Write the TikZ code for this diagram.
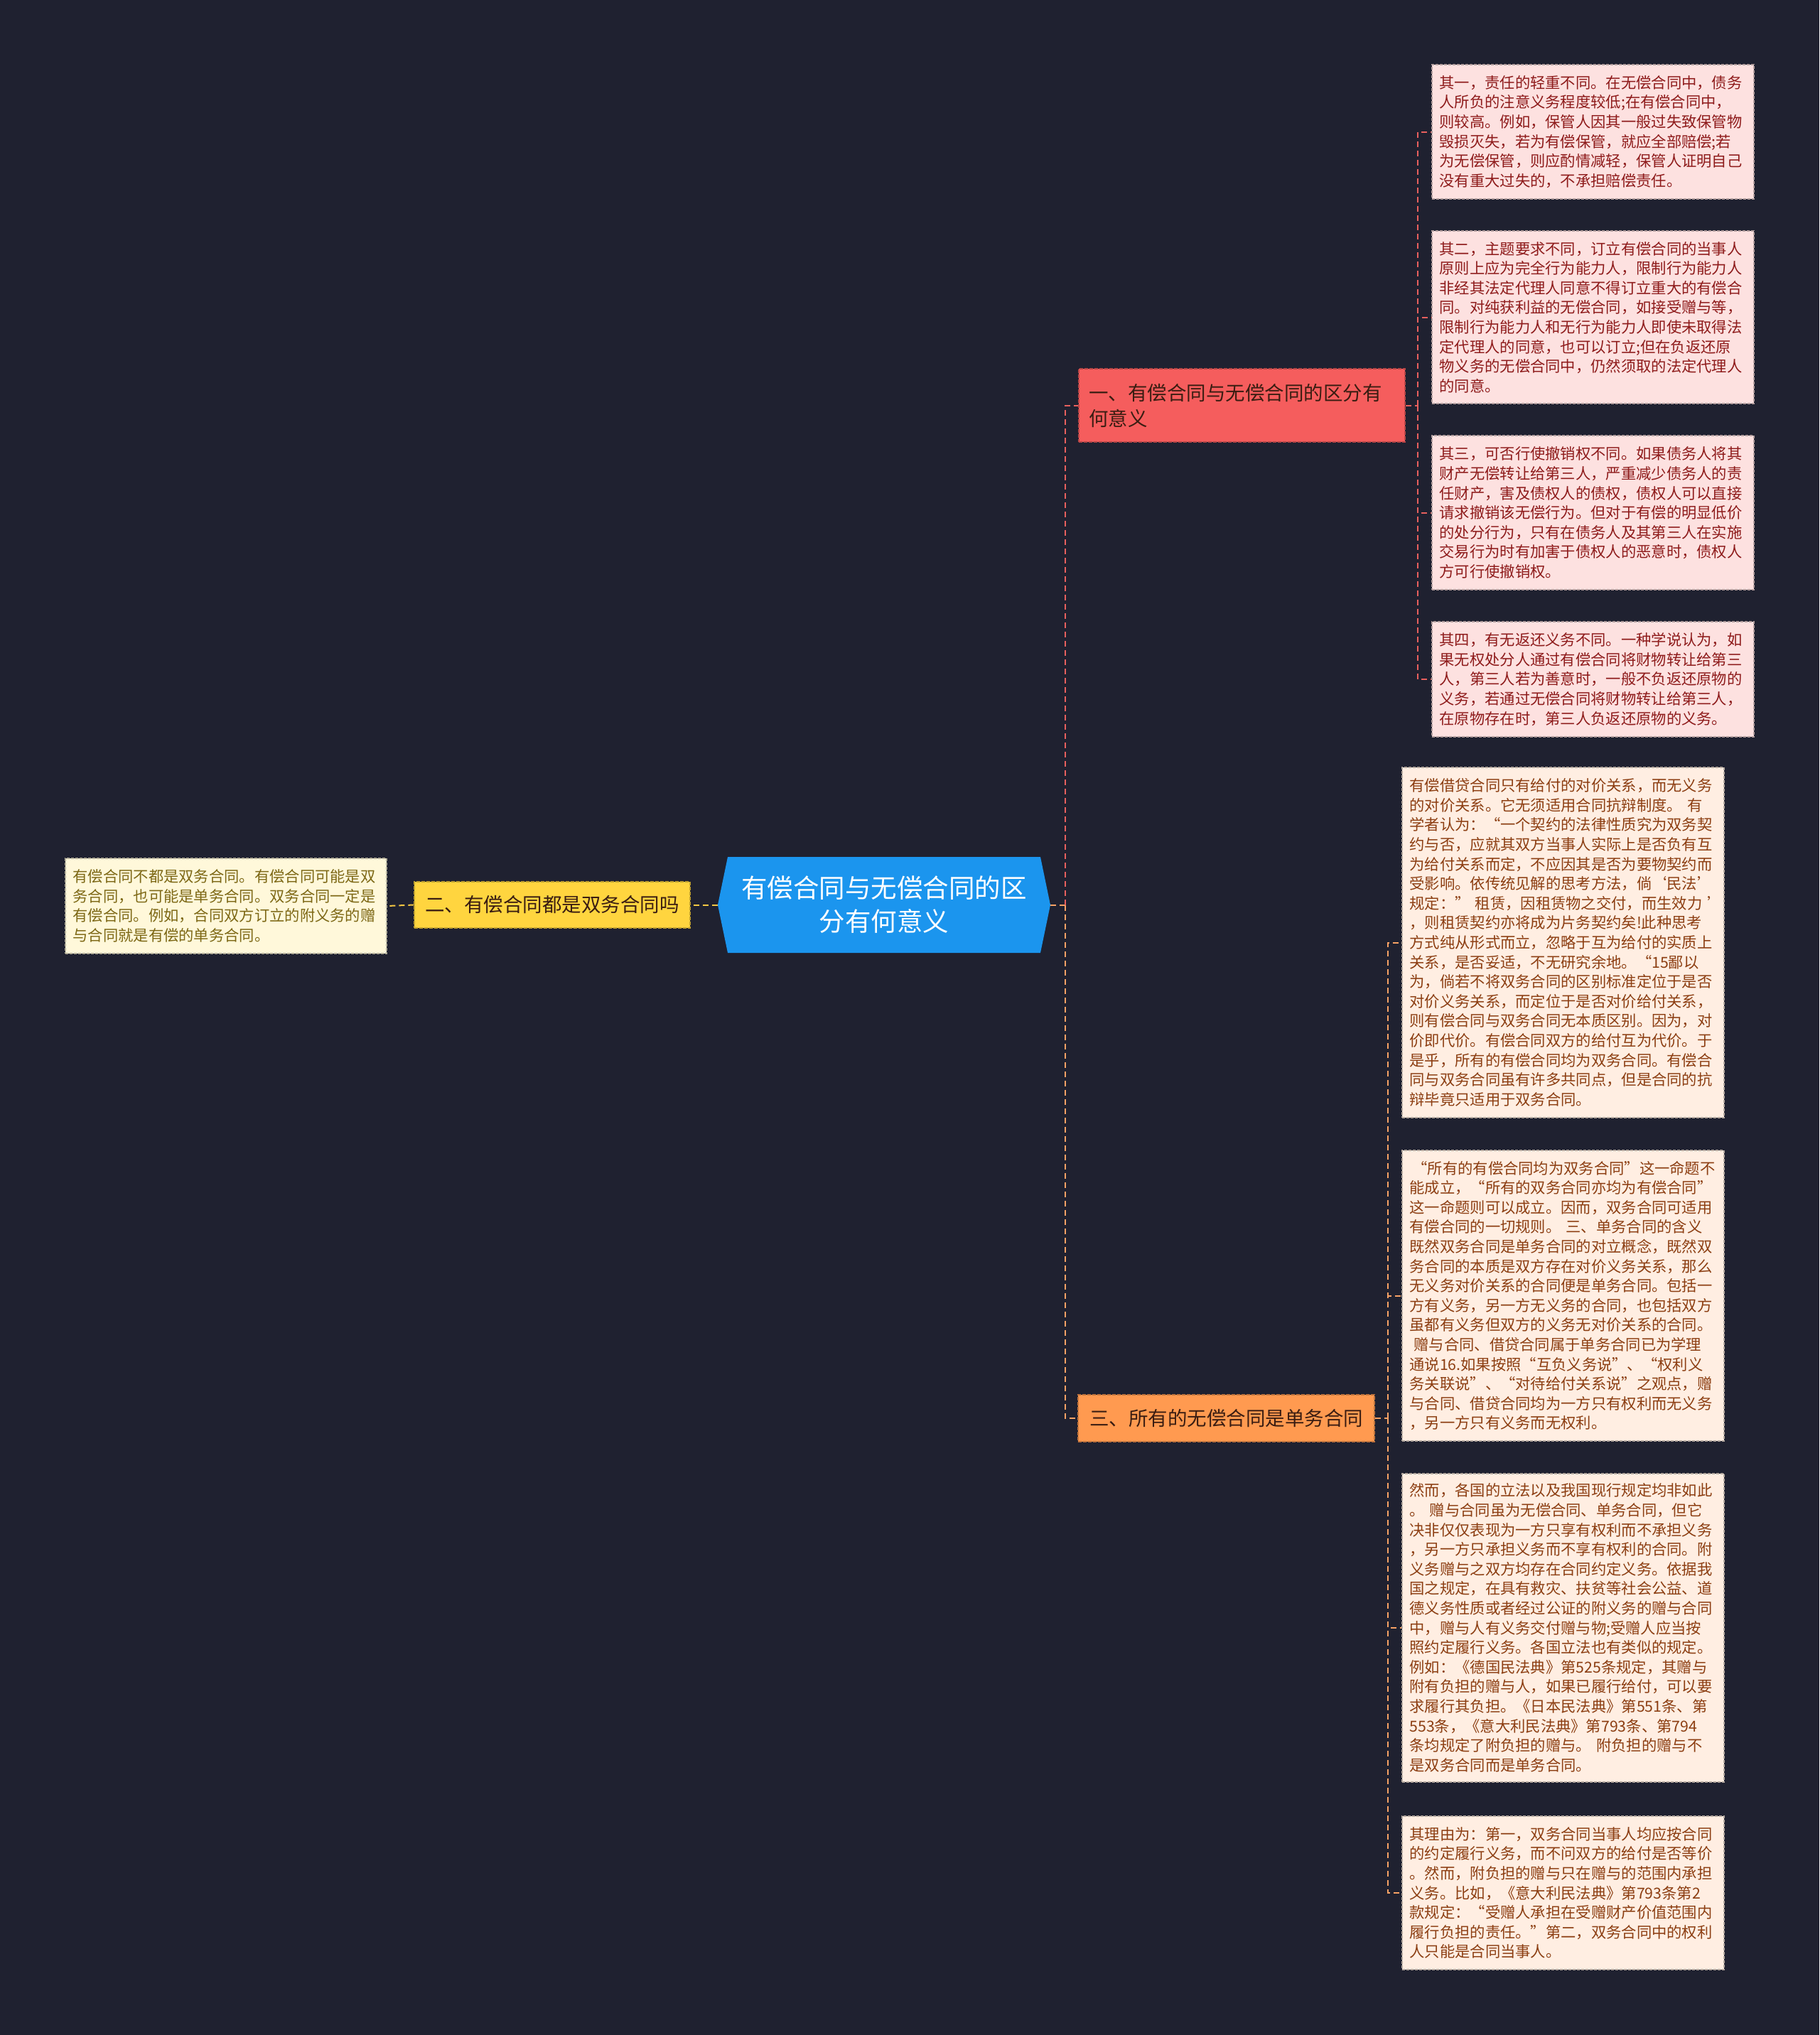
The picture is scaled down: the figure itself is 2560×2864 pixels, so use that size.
\documentclass[tikz,border=0pt]{standalone}
\usepackage{fontspec}
\setmainfont{Noto Sans CJK SC}
\definecolor{bg}{HTML}{1F2130}
\definecolor{cblue}{HTML}{1B95EE}
\definecolor{redf}{HTML}{F55D5D}
\definecolor{redl}{HTML}{E8605E}
\definecolor{yelf}{HTML}{FFD53F}
\definecolor{yell}{HTML}{F5C842}
\definecolor{oraf}{HTML}{FF9A50}
\definecolor{oral}{HTML}{F7A265}
\definecolor{pinkf}{HTML}{FDE1E0}
\definecolor{pinkt}{HTML}{8E1B1B}
\definecolor{creamf}{HTML}{FFF8DA}
\definecolor{creamt}{HTML}{7D6815}
\definecolor{peachf}{HTML}{FFEEE2}
\definecolor{peacht}{HTML}{8C3E12}
\definecolor{darkt}{HTML}{3A1D12}
\tikzset{
  leafbox/.style={draw=#1!70!black, line width=1.2pt, dash pattern=on 4pt off 2pt,
    inner xsep=10.5pt, inner ysep=0pt, text width=432pt, align=left,
    font=\fontsize{21.3}{27.6}\selectfont},
  branchbox/.style={draw=#1!75!black, fill=#1, line width=1.2pt, dash pattern=on 5pt off 2pt,
    inner xsep=14pt, inner ysep=0pt, text=darkt, font=\fontsize{27.5}{36}\selectfont},
  link/.style={draw=#1, line width=2pt, dash pattern=on 8pt off 5pt}
}
\begin{document}
\begin{tikzpicture}[x=1pt,y=-1pt]
\fill[bg] (0,0) rectangle (2560,2864);
\useasboundingbox (0,0) rectangle (2560,2864);

% root
\fill[cblue] (1010,1273.5) -- (1024,1206) -- (1464,1206) -- (1478,1273.5) -- (1464,1341) -- (1024,1341) -- cycle;
\node[text=white, font=\fontsize{36.5}{47}\selectfont, align=center, minimum width=468pt, minimum height=135pt, inner sep=0pt] (root) at (1244,1273.5) {有偿合同与无偿合同的区\\分有何意义};

% branches
\node[branchbox=redf, text width=431pt, align=left, minimum height=103pt] (b1) at (1747.5,570.5) {一、有偿合同与无偿合同的区分有\\何意义};
\node[branchbox=yelf, minimum width=388pt, minimum height=65pt] (b2) at (777,1273.5) {二、有偿合同都是双务合同吗};
\node[branchbox=oraf, minimum width=417pt, minimum height=66pt] (b3) at (1725.5,1996) {三、所有的无偿合同是单务合同};

% branch 1 leaves
\node[leafbox=pinkf, fill=pinkf, text=pinkt, minimum height=189pt] (l1) at (2241.5,185.5) {其一，责任的轻重不同。在无偿合同中，债务\\人所负的注意义务程度较低;在有偿合同中，\\则较高。例如，保管人因其一般过失致保管物\\毁损灭失，若为有偿保管，就应全部赔偿;若\\为无偿保管，则应酌情减轻，保管人证明自己\\没有重大过失的，不承担赔偿责任。};
\node[leafbox=pinkf, fill=pinkf, text=pinkt, minimum height=243pt] (l2) at (2241.5,446.5) {其二，主题要求不同，订立有偿合同的当事人\\原则上应为完全行为能力人，限制行为能力人\\非经其法定代理人同意不得订立重大的有偿合\\同。对纯获利益的无偿合同，如接受赠与等，\\限制行为能力人和无行为能力人即使未取得法\\定代理人的同意，也可以订立;但在负返还原\\物义务的无偿合同中，仍然须取的法定代理人\\的同意。};
\node[leafbox=pinkf, fill=pinkf, text=pinkt, minimum height=217pt] (l3) at (2241.5,721.5) {其三，可否行使撤销权不同。如果债务人将其\\财产无偿转让给第三人，严重减少债务人的责\\任财产，害及债权人的债权，债权人可以直接\\请求撤销该无偿行为。但对于有偿的明显低价\\的处分行为，只有在债务人及其第三人在实施\\交易行为时有加害于债权人的恶意时，债权人\\方可行使撤销权。};
\node[leafbox=pinkf, fill=pinkf, text=pinkt, minimum height=162pt] (l4) at (2241.5,956) {其四，有无返还义务不同。一种学说认为，如\\果无权处分人通过有偿合同将财物转让给第三\\人，第三人若为善意时，一般不负返还原物的\\义务，若通过无偿合同将财物转让给第三人，\\在原物存在时，第三人负返还原物的义务。};

% branch 2 leaf
\node[leafbox=creamf, fill=creamf, text=creamt, text width=431pt, minimum height=134pt] (lf) at (318,1275) {有偿合同不都是双务合同。有偿合同可能是双\\务合同，也可能是单务合同。双务合同一定是\\有偿合同。例如，合同双方订立的附义务的赠\\与合同就是有偿的单务合同。};

% branch 3 leaves
\node[leafbox=peachf, fill=peachf, text=peacht, minimum height=493pt] (r1) at (2199.5,1326.5) {有偿借贷合同只有给付的对价关系，而无义务\\的对价关系。它无须适用合同抗辩制度。~有\\学者认为：“一个契约的法律性质究为双务契\\约与否，应就其双方当事人实际上是否负有互\\为给付关系而定，不应因其是否为要物契约而\\受影响。依传统见解的思考方法，倘‘民法’\\规定：”~租赁，因租赁物之交付，而生效力~’\\，则租赁契约亦将成为片务契约矣!此种思考\\方式纯从形式而立，忽略于互为给付的实质上\\关系，是否妥适，不无研究余地。“15鄙以\\为，倘若不将双务合同的区别标准定位于是否\\对价义务关系，而定位于是否对价给付关系，\\则有偿合同与双务合同无本质区别。因为，对\\价即代价。有偿合同双方的给付互为代价。于\\是乎，所有的有偿合同均为双务合同。有偿合\\同与双务合同虽有许多共同点，但是合同的抗\\辩毕竟只适用于双务合同。};
\node[leafbox=peachf, fill=peachf, text=peacht, minimum height=409pt] (r2) at (2199.5,1823.5) {\hspace*{4pt}“所有的有偿合同均为双务合同”这一命题不\\能成立，“所有的双务合同亦均为有偿合同”\\这一命题则可以成立。因而，双务合同可适用\\有偿合同的一切规则。~三、单务合同的含义\\既然双务合同是单务合同的对立概念，既然双\\务合同的本质是双方存在对价义务关系，那么\\无义务对价关系的合同便是单务合同。包括一\\方有义务，另一方无义务的合同，也包括双方\\虽都有义务但双方的义务无对价关系的合同。\\\hspace*{6pt}赠与合同、借贷合同属于单务合同已为学理\\通说16.如果按照“互负义务说”、“权利义\\务关联说”、“对待给付关系说”之观点，赠\\与合同、借贷合同均为一方只有权利而无义务\\，另一方只有义务而无权利。};
\node[leafbox=peachf, fill=peachf, text=peacht, minimum height=434pt] (r3) at (2199.5,2291) {然而，各国的立法以及我国现行规定均非如此\\。~赠与合同虽为无偿合同、单务合同，但它\\决非仅仅表现为一方只享有权利而不承担义务\\，另一方只承担义务而不享有权利的合同。附\\义务赠与之双方均存在合同约定义务。依据我\\国之规定，在具有救灾、扶贫等社会公益、道\\德义务性质或者经过公证的附义务的赠与合同\\中，赠与人有义务交付赠与物;受赠人应当按\\照约定履行义务。各国立法也有类似的规定。\\例如：《德国民法典》第525条规定，其赠与\\附有负担的赠与人，如果已履行给付，可以要\\求履行其负担。《日本民法典》第551条、第\\553条，《意大利民法典》第793条、第794\\条均规定了附负担的赠与。~附负担的赠与不\\是双务合同而是单务合同。};
\node[leafbox=peachf, fill=peachf, text=peacht, minimum height=216pt] (r4) at (2199.5,2664) {其理由为：第一，双务合同当事人均应按合同\\的约定履行义务，而不问双方的给付是否等价\\。然而，附负担的赠与只在赠与的范围内承担\\义务。比如，《意大利民法典》第793条第2\\款规定：“受赠人承担在受赠财产价值范围内\\履行负担的责任。”第二，双务合同中的权利\\人只能是合同当事人。};

% connectors: root to branches
\coordinate (tr) at (1499,1273.5);
\draw[link=oral] (root.east) -- (tr);
\draw[link=redl] (tr) |- (b1.west);
\draw[link=oral] (tr) |- (b3.west);
\draw[link=yell] (root.west) -- (b2.east);
\draw[link=yell] (b2.west) -- (lf.east);

% branch 1 to leaves
\coordinate (j1) at (1995,570.5);
\draw[link=redl] (b1.east) -- (j1);
\foreach \n in {l1,l2,l3,l4} \draw[link=redl] (j1) |- (\n.west);

% branch 3 to leaves
\coordinate (j3) at (1953,1996);
\draw[link=oral] (b3.east) -- (j3);
\foreach \n in {r1,r2,r3,r4} \draw[link=oral] (j3) |- (\n.west);
\end{tikzpicture}
\end{document}
